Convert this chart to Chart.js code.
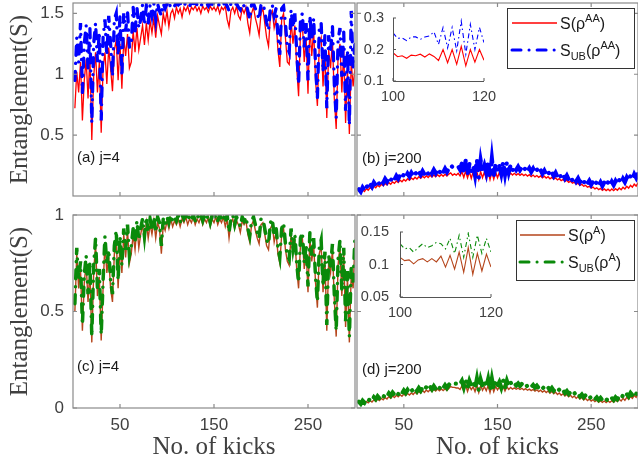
<!DOCTYPE html>
<html><head><meta charset="utf-8">
<script src="https://cdn.jsdelivr.net/npm/chart.js@4.4.1/dist/chart.umd.min.js"></script>
<style>
html,body{margin:0;padding:0;background:#fff;}
#wrap{position:relative;width:638px;height:465px;overflow:hidden;background:#fff;}
#wrap canvas{position:absolute;left:0;top:0;}
</style></head><body><div id="wrap"></div>
<script>
// ---------------- data ----------------
const kicks = Array.from({length:150},(_,i)=>2*(i+1));
const insetKicks = [100,101,102,103,104,105,106,107,108,109,110,111,112,113,114,115,116,117,118,119,120];

const xTickLabels = [50,150,250];
const yTicksA = [0.5,1,1.5];
const yTicksC = [0,0.5,1];
const insetXTicks = [100,120];
const insetYTicksB = [0.1,0.2,0.3];
const insetYTicksD = [0.05,0.1,0.15];

// (a) j=4, S(rho^AA) and S_UB(rho^AA)
const sAA_j4 = [0.72,1.02,0.85,1.10,0.62,0.95,1.12,0.80,1.15,0.46,0.98,1.18,0.85,1.10,0.52,1.05,1.18,0.92,1.22,1.05,0.86,1.20,1.28,0.95,1.25,0.88,1.30,1.15,1.33,1.05,1.10,1.36,1.18,1.38,1.20,1.30,1.40,1.24,1.42,1.28,1.44,1.34,1.46,1.30,1.48,1.40,1.33,1.50,1.42,1.52,
1.39,1.50,1.53,1.46,1.55,1.50,1.54,1.47,1.55,1.52,1.56,1.50,1.55,1.53,1.56,1.52,1.55,1.50,1.56,1.53,1.55,1.51,1.56,1.53,1.55,1.52,1.56,1.50,1.55,1.53,1.56,1.45,1.39,1.52,1.55,1.50,1.56,1.48,1.45,1.54,1.50,1.55,1.42,1.34,1.50,1.55,1.46,1.40,1.32,1.50,
1.54,1.42,1.30,1.23,1.48,1.52,1.38,1.45,1.20,1.06,1.45,1.50,1.30,1.10,1.08,1.45,1.25,1.40,1.05,0.82,1.35,1.42,1.10,1.30,0.84,1.40,1.15,1.36,0.95,0.74,1.25,1.30,0.90,1.20,0.64,1.20,1.05,1.28,0.80,0.55,1.15,1.25,0.85,1.20,0.60,1.05,0.51,1.10,0.90,1.05];
const sUBAA_j4 = [0.95,1.30,1.10,1.42,0.85,1.25,1.40,1.05,1.38,0.60,1.25,1.42,1.10,1.35,0.62,1.30,1.45,1.15,1.48,1.25,0.98,1.45,1.50,1.15,1.48,0.98,1.50,1.35,1.52,1.22,1.25,1.55,1.35,1.55,1.38,1.45,1.57,1.40,1.56,1.42,1.57,1.48,1.58,1.45,1.58,1.52,1.48,1.58,1.54,1.58,
1.54,1.58,1.585,1.56,1.585,1.57,1.585,1.56,1.585,1.57,1.585,1.56,1.585,1.58,1.585,1.57,1.585,1.56,1.585,1.58,1.585,1.56,1.585,1.575,1.585,1.57,1.585,1.56,1.585,1.575,1.585,1.56,1.52,1.58,1.58,1.56,1.58,1.55,1.53,1.58,1.56,1.58,1.52,1.45,1.57,1.58,1.54,1.50,1.45,1.57,
1.58,1.52,1.42,1.36,1.55,1.57,1.48,1.54,1.32,1.16,1.54,1.56,1.42,1.22,1.18,1.53,1.38,1.50,1.18,0.92,1.45,1.50,1.22,1.42,0.95,1.48,1.28,1.46,1.08,0.80,1.38,1.42,1.02,1.32,0.72,1.32,1.18,1.40,0.92,0.64,1.28,1.38,0.98,1.35,0.70,1.20,0.58,1.52,1.05,1.25];

// (b) j=200
const sAA_j200 = [0.040,0.028,0.050,0.038,0.060,0.048,0.070,0.058,0.080,0.068,0.088,0.076,0.096,0.084,0.103,0.090,0.110,0.097,0.116,0.104,0.123,0.110,0.130,0.117,0.136,0.123,0.142,0.129,0.148,0.135,0.154,0.140,0.158,0.145,0.162,0.149,0.166,0.152,0.170,0.156,0.172,0.158,0.174,0.160,0.176,0.162,0.178,0.164,0.180,0.190,
0.170,0.182,0.172,0.186,0.165,0.200,0.153,0.205,0.150,0.200,0.145,0.200,0.140,0.198,0.135,0.200,0.150,0.198,0.140,0.200,0.135,0.198,0.140,0.196,0.150,0.195,0.145,0.194,0.150,0.192,0.165,0.188,0.172,0.186,0.172,0.184,0.170,0.182,0.168,0.178,0.164,0.175,0.160,0.172,0.157,0.168,0.153,0.165,0.150,0.162,
0.147,0.158,0.142,0.153,0.138,0.148,0.132,0.142,0.126,0.136,0.120,0.130,0.113,0.122,0.105,0.113,0.097,0.105,0.088,0.096,0.080,0.088,0.072,0.080,0.065,0.073,0.058,0.067,0.052,0.062,0.047,0.058,0.044,0.056,0.042,0.057,0.044,0.060,0.047,0.066,0.052,0.072,0.058,0.080,0.065,0.088,0.072,0.097,0.082,0.108];
const sUBAA_j200 = [0.055,0.035,0.070,0.048,0.085,0.062,0.098,0.075,0.110,0.088,0.120,0.098,0.130,0.108,0.140,0.117,0.150,0.126,0.158,0.134,0.165,0.141,0.172,0.148,0.178,0.154,0.184,0.160,0.190,0.165,0.195,0.170,0.200,0.175,0.204,0.178,0.208,0.182,0.212,0.185,0.215,0.188,0.218,0.190,0.221,0.193,0.224,0.196,0.226,0.253,
0.237,0.240,0.232,0.243,0.216,0.270,0.180,0.290,0.175,0.265,0.205,0.250,0.170,0.300,0.150,0.290,0.200,0.250,0.190,0.285,0.150,0.305,0.160,0.265,0.205,0.250,0.185,0.280,0.180,0.275,0.195,0.255,0.210,0.245,0.215,0.240,0.212,0.236,0.208,0.232,0.203,0.228,0.198,0.224,0.193,0.219,0.188,0.214,0.182,0.208,
0.176,0.202,0.170,0.196,0.164,0.190,0.157,0.183,0.150,0.176,0.143,0.168,0.136,0.160,0.128,0.152,0.120,0.145,0.113,0.138,0.106,0.131,0.100,0.125,0.094,0.120,0.089,0.116,0.085,0.113,0.083,0.112,0.083,0.113,0.085,0.117,0.090,0.123,0.097,0.131,0.105,0.141,0.115,0.152,0.126,0.165,0.138,0.178,0.150,0.192];

// (c) j=4, S(rho^A) and S_UB(rho^A)
const sA_j4 = [0.50,0.80,0.62,0.72,0.40,0.65,0.75,0.55,0.72,0.34,0.70,0.85,0.58,0.68,0.35,0.62,0.86,0.70,0.78,0.62,0.55,0.80,0.88,0.62,0.85,0.70,0.90,0.78,0.92,0.75,0.80,0.90,0.82,0.94,0.83,0.90,0.95,0.86,0.96,0.88,0.95,0.90,0.97,0.88,0.96,0.93,0.80,0.95,0.92,0.97,
0.93,0.98,0.94,0.97,0.95,0.98,0.94,0.98,0.96,0.99,0.95,0.98,0.96,0.99,0.95,0.98,0.96,0.99,0.95,0.98,0.96,0.99,0.94,0.98,0.96,0.99,0.95,0.98,0.96,0.99,0.94,0.98,0.88,0.96,0.98,0.93,0.97,0.95,0.91,0.97,0.95,0.97,0.90,0.86,0.95,0.97,0.92,0.88,0.85,0.95,
0.96,0.90,0.84,0.82,0.93,0.95,0.86,0.91,0.80,0.75,0.90,0.93,0.82,0.76,0.74,0.90,0.80,0.87,0.72,0.62,0.85,0.88,0.72,0.82,0.60,0.88,0.76,0.85,0.65,0.52,0.80,0.84,0.60,0.78,0.40,0.76,0.70,0.82,0.56,0.37,0.74,0.84,0.58,0.80,0.42,0.68,0.34,0.70,0.62,0.86];
const sUBA_j4 = [0.54,0.83,0.66,0.76,0.43,0.69,0.79,0.59,0.76,0.37,0.74,0.88,0.62,0.72,0.38,0.66,0.89,0.74,0.82,0.66,0.59,0.84,0.92,0.66,0.89,0.74,0.93,0.82,0.95,0.79,0.84,0.93,0.86,0.97,0.87,0.93,0.98,0.89,0.99,0.91,0.98,0.93,0.99,0.91,0.99,0.96,0.84,0.98,0.95,0.99,
0.96,1.0,0.97,0.99,0.97,1.0,0.96,1.0,0.98,1.0,0.97,1.0,0.98,1.0,0.97,1.0,0.98,1.0,0.97,1.0,0.98,1.0,0.96,1.0,0.98,1.0,0.97,1.0,0.98,1.0,0.96,1.0,0.91,0.98,1.0,0.95,0.99,0.97,0.94,0.99,0.97,0.99,0.93,0.89,0.97,0.99,0.95,0.91,0.88,0.98,
0.98,0.93,0.87,0.85,0.96,0.98,0.89,0.94,0.83,0.78,0.93,0.96,0.85,0.79,0.77,0.93,0.83,0.90,0.75,0.65,0.88,0.91,0.75,0.85,0.63,0.91,0.79,0.88,0.68,0.55,0.83,0.87,0.63,0.81,0.43,0.79,0.73,0.85,0.59,0.40,0.77,0.87,0.61,0.83,0.45,0.71,0.37,0.73,0.65,0.89];

// (d) j=200
const sA_j200 = [0.026,0.019,0.030,0.023,0.034,0.027,0.038,0.031,0.042,0.035,0.046,0.039,0.050,0.043,0.054,0.047,0.059,0.051,0.062,0.054,0.066,0.058,0.069,0.061,0.072,0.064,0.075,0.067,0.078,0.070,0.082,0.073,0.086,0.077,0.091,0.081,0.093,0.084,0.095,0.086,0.097,0.088,0.098,0.089,0.099,0.090,0.100,0.091,0.101,0.111,
0.107,0.107,0.104,0.104,0.096,0.114,0.088,0.119,0.086,0.114,0.095,0.110,0.085,0.118,0.080,0.116,0.092,0.110,0.090,0.116,0.080,0.118,0.084,0.112,0.094,0.110,0.090,0.112,0.088,0.110,0.096,0.106,0.098,0.104,0.097,0.103,0.096,0.102,0.094,0.100,0.092,0.098,0.090,0.096,0.088,0.094,0.085,0.092,0.083,0.090,
0.080,0.088,0.077,0.086,0.074,0.082,0.070,0.078,0.066,0.074,0.062,0.070,0.058,0.066,0.054,0.062,0.050,0.058,0.046,0.054,0.042,0.050,0.039,0.046,0.036,0.043,0.033,0.040,0.030,0.038,0.029,0.036,0.028,0.036,0.029,0.038,0.030,0.041,0.033,0.045,0.036,0.050,0.040,0.055,0.045,0.060,0.050,0.066,0.055,0.072];
const sUBA_j200 = [0.032,0.022,0.038,0.028,0.044,0.034,0.050,0.040,0.056,0.045,0.061,0.050,0.066,0.055,0.071,0.060,0.076,0.064,0.080,0.068,0.084,0.072,0.088,0.075,0.091,0.078,0.094,0.081,0.097,0.084,0.100,0.087,0.103,0.090,0.106,0.093,0.109,0.095,0.111,0.097,0.113,0.099,0.115,0.101,0.117,0.103,0.118,0.104,0.119,0.132,
0.126,0.126,0.126,0.134,0.124,0.140,0.108,0.146,0.104,0.140,0.115,0.134,0.100,0.150,0.092,0.146,0.112,0.136,0.108,0.148,0.092,0.150,0.098,0.138,0.114,0.134,0.106,0.144,0.104,0.140,0.112,0.132,0.116,0.128,0.117,0.127,0.115,0.125,0.113,0.123,0.111,0.121,0.109,0.119,0.106,0.116,0.103,0.113,0.100,0.110,
0.097,0.107,0.093,0.104,0.090,0.100,0.086,0.096,0.082,0.092,0.078,0.088,0.073,0.083,0.069,0.079,0.064,0.074,0.060,0.070,0.056,0.066,0.052,0.062,0.049,0.058,0.045,0.055,0.042,0.052,0.040,0.050,0.039,0.050,0.040,0.052,0.042,0.056,0.046,0.061,0.050,0.066,0.055,0.072,0.060,0.078,0.066,0.085,0.072,0.092];

// insets (kicks 100..120)
const insetB_S  = [0.190,0.177,0.180,0.172,0.182,0.180,0.185,0.176,0.186,0.178,0.165,0.200,0.158,0.200,0.153,0.210,0.148,0.200,0.160,0.200,0.166];
const insetB_UB = [0.253,0.235,0.237,0.228,0.240,0.240,0.232,0.240,0.243,0.256,0.216,0.270,0.205,0.270,0.196,0.290,0.185,0.280,0.200,0.270,0.222];
const insetD_S  = [0.111,0.106,0.107,0.101,0.107,0.109,0.104,0.109,0.104,0.113,0.096,0.114,0.093,0.119,0.088,0.126,0.085,0.117,0.090,0.116,0.096];
const insetD_UB = [0.132,0.124,0.126,0.119,0.126,0.132,0.126,0.129,0.134,0.132,0.124,0.140,0.117,0.145,0.111,0.148,0.111,0.145,0.117,0.140,0.119];

// ---------------- drawing ----------------
const W = 638, H = 465;
const SANS = '"Liberation Sans", Arial, Helvetica, sans-serif';
const SERIF = '"Liberation Serif", "Times New Roman", serif';
const TXT = '#404040';
const FRAME = '#8a8a8a';
const RED = '#ff0000', BLUE = '#0000ff', BROWN = '#b5451b', GREEN = '#0a8a0a';
const wrap = document.getElementById('wrap');

function makeCanvas(){
  const c = document.createElement('canvas');
  c.width = W; c.height = H; c.style.width = W+'px'; c.style.height = H+'px';
  wrap.appendChild(c); return c;
}
function pts(xs, ys){ return xs.map((x,i)=>({x:x, y:ys[i]})); }

function drawLegend(ctx, L){
  ctx.save();
  ctx.fillStyle = '#fff'; ctx.fillRect(L.x, L.y, L.w, L.h);
  ctx.strokeStyle = '#333'; ctx.lineWidth = 1; ctx.setLineDash([]);
  ctx.strokeRect(L.x+0.5, L.y+0.5, L.w, L.h);
  for (const r of L.rows){
    ctx.save();
    ctx.strokeStyle = r.color; ctx.lineWidth = r.width; ctx.setLineDash(r.dash || []);
    ctx.lineCap = r.cap || 'butt';
    ctx.beginPath(); ctx.moveTo(L.x0, r.y); ctx.lineTo(L.x1, r.y); ctx.stroke();
    ctx.restore();
    let x = L.tx;
    ctx.fillStyle = '#1a1a1a'; ctx.textBaseline = 'alphabetic'; ctx.textAlign = 'left';
    for (const run of r.runs){
      const t = run[0], kind = run[1];
      const size = kind === 'n' ? 16 : 11;
      const dy = kind === 'sup' ? -7 : (kind === 'sub' ? 4 : 0);
      ctx.font = size + 'px ' + SANS;
      ctx.fillText(t, x, r.y + L.base + dy);
      x += ctx.measureText(t).width;
    }
  }
  ctx.restore();
}

function makeDecor(d){
  return {
    id: 'decor',
    afterDatasetsDraw(chart){
      const ctx = chart.ctx, a = chart.chartArea, xs = chart.scales.x, ys = chart.scales.y;
      ctx.save();
      if (d.kind === 'main'){
        ctx.strokeStyle = FRAME; ctx.lineWidth = 1.2; ctx.setLineDash([]);
        ctx.strokeRect(a.left, a.top, a.right - a.left, a.bottom - a.top);
        ctx.beginPath();
        d.xTicks.forEach(v => { const p = xs.getPixelForValue(v);
          ctx.moveTo(p, a.bottom); ctx.lineTo(p, a.bottom - 4);
          ctx.moveTo(p, a.top); ctx.lineTo(p, a.top + 4); });
        d.yTicks.forEach(v => { const p = ys.getPixelForValue(v);
          ctx.moveTo(a.left, p); ctx.lineTo(a.left + 4, p);
          ctx.moveTo(a.right, p); ctx.lineTo(a.right - 4, p); });
        ctx.stroke();
      } else {
        ctx.strokeStyle = '#555'; ctx.lineWidth = 1; ctx.setLineDash([]);
        ctx.beginPath();
        ctx.moveTo(a.left + 0.5, a.top); ctx.lineTo(a.left + 0.5, a.bottom + 0.5); ctx.lineTo(a.right, a.bottom + 0.5);
        d.yTicks.forEach(v => { const p = ys.getPixelForValue(v); ctx.moveTo(a.left, p); ctx.lineTo(a.left + 3, p); });
        d.xTicks.forEach(v => { const p = xs.getPixelForValue(v); ctx.moveTo(p, a.bottom); ctx.lineTo(p, a.bottom - 3); });
        ctx.stroke();
      }
      if (d.label){
        ctx.font = '15px ' + SANS; ctx.fillStyle = '#1a1a1a';
        ctx.textBaseline = 'middle'; ctx.textAlign = 'left';
        ctx.fillText(d.label.text, d.label.x, d.label.y);
      }
      if (d.legend) drawLegend(ctx, d.legend);
      ctx.restore();
    }
  };
}

function panel(c){
  const yW = c.showY ? c.yW : 0;
  const xH = c.showX ? c.xH : 0;
  const pad = {left: c.area.l - yW, top: c.area.t, right: W - c.area.r, bottom: H - c.area.b - xH};
  const fix = (size, horiz) => s => { if (horiz) s.height = size; else s.width = size;
    s.paddingTop = 0; s.paddingBottom = 0; s.paddingLeft = 0; s.paddingRight = 0; };
  const setT = vals => s => { s.ticks = vals.map(v => ({value: v})); };
  new Chart(makeCanvas(), {
    type: 'line',
    data: {datasets: c.datasets},
    options: {
      responsive: false, animation: false, devicePixelRatio: 1,
      layout: {padding: pad, autoPadding: false},
      plugins: {legend: {display: false}, tooltip: {enabled: false}},
      elements: {point: {radius: 0}, line: {tension: 0}},
      events: [],
      scales: {
        x: {type: 'linear', min: c.xMin, max: c.xMax, display: c.showX,
            grid: {display: false, drawTicks: false}, border: {display: false},
            ticks: {autoSkip: false, maxRotation: 0, padding: c.xPad || 7, color: TXT,
                    font: {family: SANS, size: c.tickSize}, callback: v => String(v)},
            title: c.xTitle ? {display: true, text: c.xTitle, color: TXT, font: {family: SERIF, size: 25},
                    padding: {top: 0, bottom: 3}} : {display: false},
            afterBuildTicks: setT(c.xTicks), afterFit: fix(xH, true)},
        y: {type: 'linear', min: c.yMin, max: c.yMax, display: c.showY,
            grid: {display: false, drawTicks: false}, border: {display: false},
            ticks: {autoSkip: false, padding: c.yPad || 9, color: TXT,
                    font: {family: SANS, size: c.tickSize}, callback: v => String(v)},
            title: c.yTitle ? {display: true, text: c.yTitle, color: TXT, font: {family: SERIF, size: 25},
                    padding: {top: 5, bottom: 0}} : {display: false},
            afterBuildTicks: setT(c.yTicks), afterFit: fix(yW, false)}
      }
    },
    plugins: [makeDecor({kind: c.kind, xTicks: c.xTicks, yTicks: c.yTicks, label: c.label, legend: c.legend})]
  });
}

const LN2_3 = 1.585;
const dashThick = [9, 8, 0.1, 8];
const dashThin = [5, 3, 1.5, 3];

// (a)
panel({kind:'main', area:{l:73,t:3,r:355,b:196}, xMin:0, xMax:300, yMin:0, yMax:LN2_3,
  xTicks: xTickLabels, yTicks: yTicksA, showX:false, showY:true, yW:73, tickSize:17,
  yTitle:'Entanglement(S)', label:{text:'(a) j=4', x:77, y:158},
  datasets:[
    {data: pts(kicks, sUBAA_j4), borderColor: BLUE, borderWidth: 3.3, borderDash: dashThick, borderCapStyle:'round'},
    {data: pts(kicks, sAA_j4), borderColor: RED, borderWidth: 1.3}
  ]});
// (b)
panel({kind:'main', area:{l:357,t:3,r:638,b:196}, xMin:0, xMax:300, yMin:0, yMax:LN2_3,
  xTicks: xTickLabels, yTicks: yTicksA, showX:false, showY:false, tickSize:17,
  label:{text:'(b) j=200', x:362, y:159},
  legend:{x:507, y:8, w:127, h:60, x0:512, x1:557, tx:560, base:6, rows:[
    {y:23, color:RED, width:1.3, runs:[['S(ρ','n'],['AA','sup'],[')','n']]},
    {y:50, color:BLUE, width:3, dash:dashThick, cap:'round', runs:[['S','n'],['UB','sub'],['(ρ','n'],['AA','sup'],[')','n']]}
  ]},
  datasets:[
    {data: pts(kicks, sUBAA_j200), borderColor: BLUE, borderWidth: 4.2, borderDash: dashThick, borderCapStyle:'round'},
    {data: pts(kicks, sAA_j200), borderColor: RED, borderWidth: 1.4}
  ]});
// (c)
panel({kind:'main', area:{l:73,t:215,r:355,b:408}, xMin:0, xMax:300, yMin:0, yMax:1,
  xTicks: xTickLabels, yTicks: yTicksC, showX:true, showY:true, yW:73, xH:57, tickSize:17,
  yTitle:'Entanglement(S)', xTitle:'No. of kicks', label:{text:'(c) j=4', x:77, y:367},
  datasets:[
    {data: pts(kicks, sUBA_j4), borderColor: GREEN, borderWidth: 3.5, borderDash: dashThick, borderCapStyle:'round'},
    {data: pts(kicks, sA_j4), borderColor: BROWN, borderWidth: 1.4}
  ]});
// (d)
panel({kind:'main', area:{l:357,t:215,r:638,b:408}, xMin:0, xMax:300, yMin:0, yMax:1,
  xTicks: xTickLabels, yTicks: yTicksC, showX:true, showY:false, xH:57, tickSize:17,
  xTitle:'No. of kicks', label:{text:'(d) j=200', x:362, y:370},
  legend:{x:516, y:220, w:118, h:60, x0:520, x1:565, tx:568, base:6, rows:[
    {y:235, color:BROWN, width:1.3, runs:[['S(ρ','n'],['A','sup'],[')','n']]},
    {y:262, color:GREEN, width:3, dash:dashThick, cap:'round', runs:[['S','n'],['UB','sub'],['(ρ','n'],['A','sup'],[')','n']]}
  ]},
  datasets:[
    {data: pts(kicks, sUBA_j200), borderColor: GREEN, borderWidth: 4.2, borderDash: dashThick, borderCapStyle:'round'},
    {data: pts(kicks, sA_j200), borderColor: BROWN, borderWidth: 1.4}
  ]});
// inset (b)
panel({kind:'inset', area:{l:393,t:18,r:484,b:81}, xMin:100, xMax:120, yMin:0.1, yMax:0.3,
  xTicks: insetXTicks, yTicks: insetYTicksB, showX:true, showY:true, yW:40, xH:26, tickSize:14.5, yPad:9, xPad:7,
  datasets:[
    {data: pts(insetKicks, insetB_UB), borderColor: BLUE, borderWidth: 1.1, borderDash: dashThin},
    {data: pts(insetKicks, insetB_S), borderColor: RED, borderWidth: 1.1}
  ]});
// inset (d)
panel({kind:'inset', area:{l:400,t:232,r:491,b:297}, xMin:100, xMax:120, yMin:0.05, yMax:0.15,
  xTicks: insetXTicks, yTicks: insetYTicksD, showX:true, showY:true, yW:45, xH:26, tickSize:14.5, yPad:11, xPad:7,
  datasets:[
    {data: pts(insetKicks, insetD_UB), borderColor: GREEN, borderWidth: 1.1, borderDash: dashThin},
    {data: pts(insetKicks, insetD_S), borderColor: BROWN, borderWidth: 1.1}
  ]});
</script>
</body></html>
